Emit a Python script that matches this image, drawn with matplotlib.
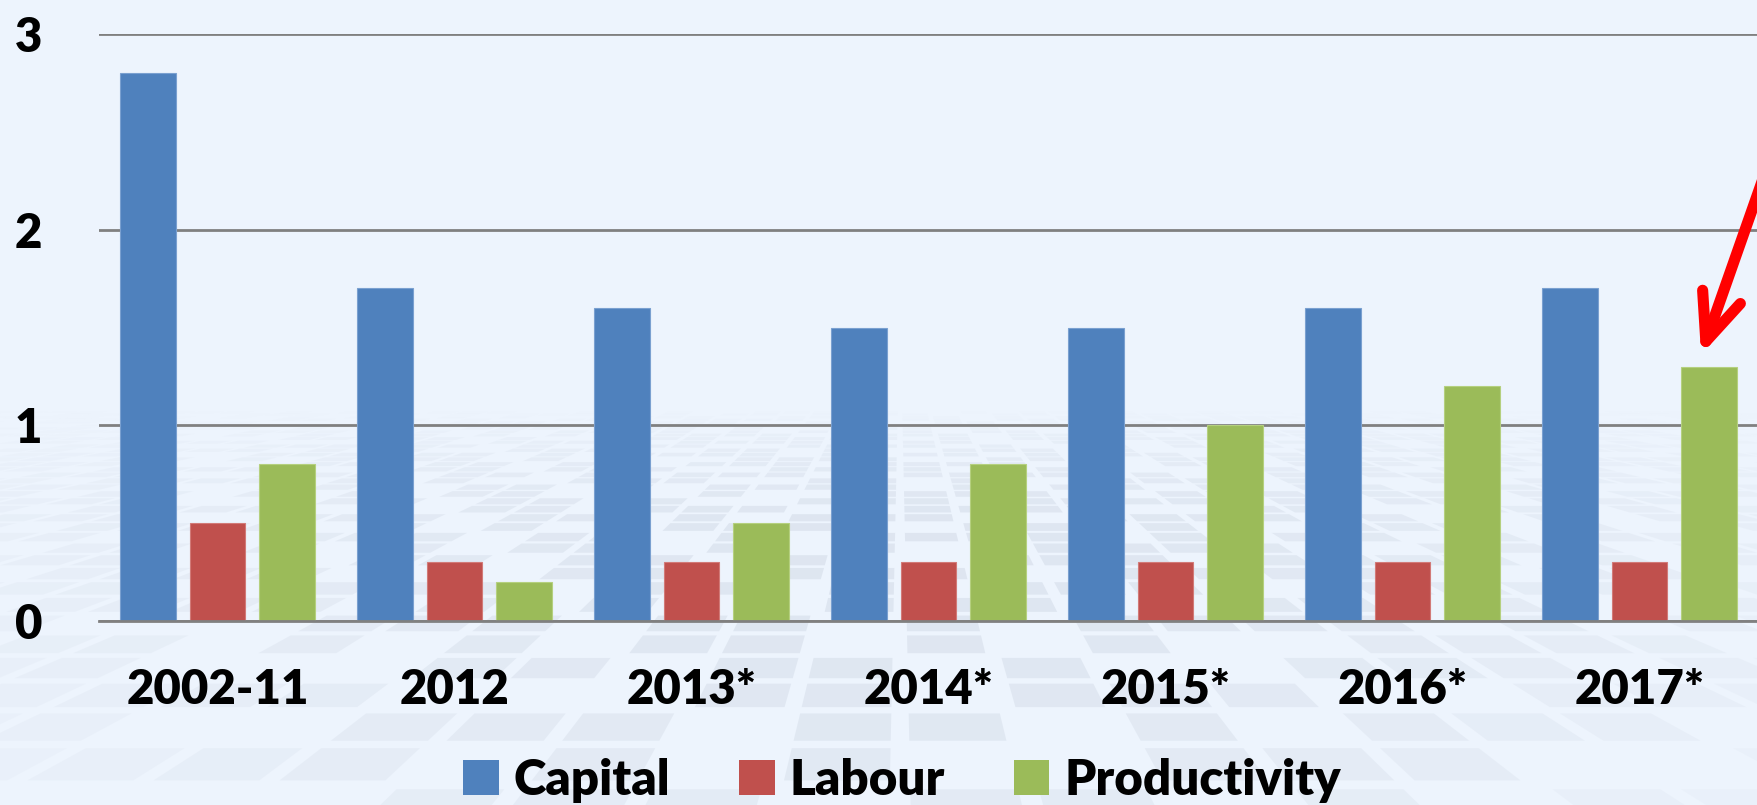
import numpy as np
import matplotlib
matplotlib.use('Agg')
import matplotlib.pyplot as plt
from matplotlib.patches import Polygon

# chart data
categories = ['2002-11', '2012', '2013*', '2014*', '2015*', '2016*', '2017*']
capital = [2.8, 1.7, 1.6, 1.5, 1.5, 1.6, 1.7]
labour = [0.5, 0.3, 0.3, 0.3, 0.3, 0.3, 0.3]
productivity = [0.8, 0.2, 0.5, 0.8, 1.0, 1.2, 1.3]
series_names = ['Capital', 'Labour', 'Productivity']
y_ticks = [0, 1, 2, 3]

plt.rcParams['font.family'] = ['Lato', 'DejaVu Sans']
plt.rcParams['font.weight'] = 'heavy'

W, H = 1758, 805
bg_color = '#EDF4FD'
fig = plt.figure(figsize=(W / 100, H / 100), dpi=100, facecolor=bg_color)

# faint perspective floor tiles in the background
bg_ax = fig.add_axes([0, 0, 1, 1], zorder=-1)
bg_ax.set_xlim(0, W)
bg_ax.set_ylim(H, 0)
bg_ax.axis('off')
bg_ax.set_facecolor(bg_color)
horizon, K, C, cx = 300.0, 5333.0, 1400.0, 900.0
for j in range(10, 50):
    z0, z1 = j + 0.1, j + 0.9
    fade = np.clip((48 - j) / 24.0, 0, 1)
    if fade <= 0:
        continue
    for i in range(-50, 51):
        if (i * 3 + j * 5) % 7 == 0 or (i * 2 + j) % 5 == 3 or (i + j * 2) % 9 == 4:
            continue
        x0, x1 = i + 0.08, i + 0.92
        pts = [(cx + C * x0 / z0, horizon + K / z0), (cx + C * x1 / z0, horizon + K / z0),
               (cx + C * x1 / z1, horizon + K / z1), (cx + C * x0 / z1, horizon + K / z1)]
        xm = np.mean([p[0] for p in pts])
        ym = np.mean([p[1] for p in pts])
        if xm < -150 or xm > W + 150:
            continue
        dist = np.hypot((xm - cx) / 850.0, (ym - 540) / 420.0)
        side = np.exp(-dist ** 2)
        bg_ax.add_patch(Polygon(pts, closed=True, facecolor='#D6DEEA', edgecolor='none',
                                alpha=0.65 * fade * side))

ax = fig.add_axes([99 / W, 1 - 621 / H, 1 - 99 / W, (621 - 34) / H])
ax.patch.set_alpha(0)

x = np.arange(len(categories))
bw = 0.236
step = 0.295
colors = ['#4F81BD', '#C0504D', '#9BBB59']
edges = ['#7AA0D0', '#D27A78', '#B5D07F']
for k, vals in enumerate([capital, labour, productivity]):
    ax.bar(x + (k - 1) * step, vals, width=bw, color=colors[k], edgecolor=edges[k],
           linewidth=0.8, label=series_names[k], zorder=2)

ax.set_xlim(-0.5, 6.5)
ax.set_ylim(0, 3)
ax.set_yticks(y_ticks)
ax.set_yticklabels([str(t) for t in y_ticks])
ax.set_xticks(x)
ax.set_xticklabels(categories)
ax.yaxis.grid(True, color='#808080', linewidth=2.0)
ax.set_axisbelow(True)
for s in ['top', 'right', 'left']:
    ax.spines[s].set_visible(False)
ax.spines['bottom'].set_color('#808080')
ax.spines['bottom'].set_linewidth(2.0)
ax.tick_params(axis='y', length=0, pad=41, labelsize=34)
ax.tick_params(axis='x', length=0, pad=34, labelsize=34)

# red arrow pointing at the last productivity bar
ax.annotate('', xy=(6.26, 1.36), xytext=(6.73, 2.98),
            arrowprops=dict(arrowstyle='->,head_length=0.85,head_width=0.36', color='red',
                            lw=8, mutation_scale=40, shrinkA=0, shrinkB=0,
                            capstyle='round', joinstyle='round'),
            zorder=5, annotation_clip=False)

leg = ax.legend(loc='center', bbox_to_anchor=(0.513, 0.031), bbox_transform=fig.transFigure,
                ncol=3, frameon=False, fontsize=35.5, handlelength=0.72, handleheight=0.7,
                handletextpad=0.3, columnspacing=1.4, borderpad=0)
for h in leg.legend_handles:
    h.set_edgecolor('none')

fig.savefig('out.png', dpi=100, facecolor=bg_color)
